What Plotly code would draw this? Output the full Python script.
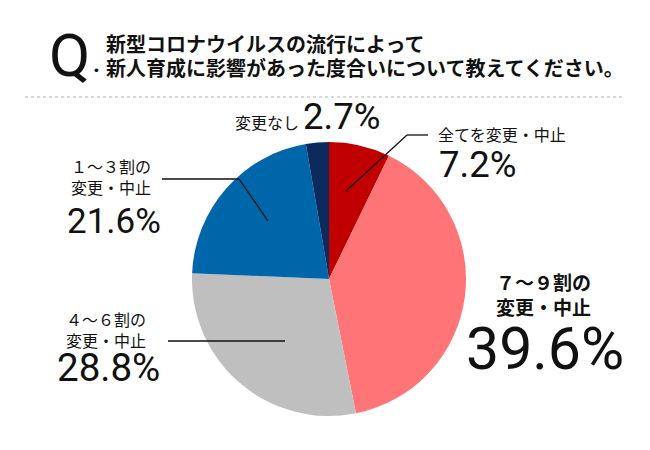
import plotly.graph_objects as go

categories = ["全てを変更・中止", "７～９割の変更・中止", "４～６割の変更・中止", "１～３割の変更・中止", "変更なし"]
values = [7.2, 39.6, 28.8, 21.6, 2.7]
pct_labels = ["7.2%", "39.6%", "28.8%", "21.6%", "2.7%"]
colors = ["#c00000", "#ff7577", "#bfbfbf", "#0066aa", "#0d2a5e"]

W, H = 650, 450
def px(x):
    return x / W
def py(y):
    return 1 - y / H

fig = go.Figure(go.Pie(
    labels=categories, values=values, sort=False, direction="clockwise",
    rotation=0, textinfo="none", hoverinfo="none", showlegend=False,
    marker=dict(colors=colors, line=dict(width=0)),
    domain=dict(x=[px(192), px(466)], y=[py(416), py(142)]),
))

JP = "Noto Sans CJK JP"
NUM = "Roboto"
ann = []
def add(x, y, text, size, family=JP, xanchor="center", bold=False):
    if bold:
        text = "<b>" + text + "</b>"
    ann.append(dict(x=px(x), y=py(y), xref="paper", yref="paper", text=text,
                    showarrow=False, xanchor=xanchor, yanchor="middle",
                    font=dict(size=size, family=family, color="#111111")))

# title
add(69, 55, "Q", 60, NUM)
add(96, 64, ".", 24, NUM, bold=True)
add(104, 44, "新型コロナウイルスの流行によって", 20, JP, "left", True)
add(104, 68, "新人育成に影響があった度合いについて教えてください。", 20, JP, "left", True)

# labels
add(267, 122, "変更なし", 16)
add(341, 116.5, pct_labels[4], 36.5, NUM)
add(502, 134, "全てを変更・中止", 16)
add(477, 164, pct_labels[0], 36.5, NUM)
add(543, 294, "７～９割の<br>変更・中止", 19, JP, bold=True)
add(545, 348, pct_labels[1], 59, NUM)
add(111, 176.5, "１～３割の<br>変更・中止", 16)
add(113.5, 221.5, pct_labels[3], 35, NUM)
add(106, 329, "４～６割の<br>変更・中止", 16)
add(108, 367.5, pct_labels[2], 38.5, NUM)

shapes = []
def line(x0, y0, x1, y1, dash=None, color="#111111", width=1.3):
    shapes.append(dict(type="line", xref="paper", yref="paper",
                       x0=px(x0), y0=py(y0), x1=px(x1), y1=py(y1),
                       line=dict(color=color, width=width, dash=dash)))

line(25, 97, 625, 97, dash="3px,3px", color="#b0b0b0", width=1)
line(346, 191, 407, 135)
line(407, 135, 428, 135)
line(162, 179, 239, 179)
line(239, 179, 268, 221)
line(168, 341, 285, 341)

fig.update_layout(width=W, height=H, margin=dict(l=0, r=0, t=0, b=0),
                  paper_bgcolor="white", plot_bgcolor="white",
                  annotations=ann, shapes=shapes)
fig.write_html("out.html", config={"displayModeBar": False},
               post_script="document.body.style.margin='0';")
